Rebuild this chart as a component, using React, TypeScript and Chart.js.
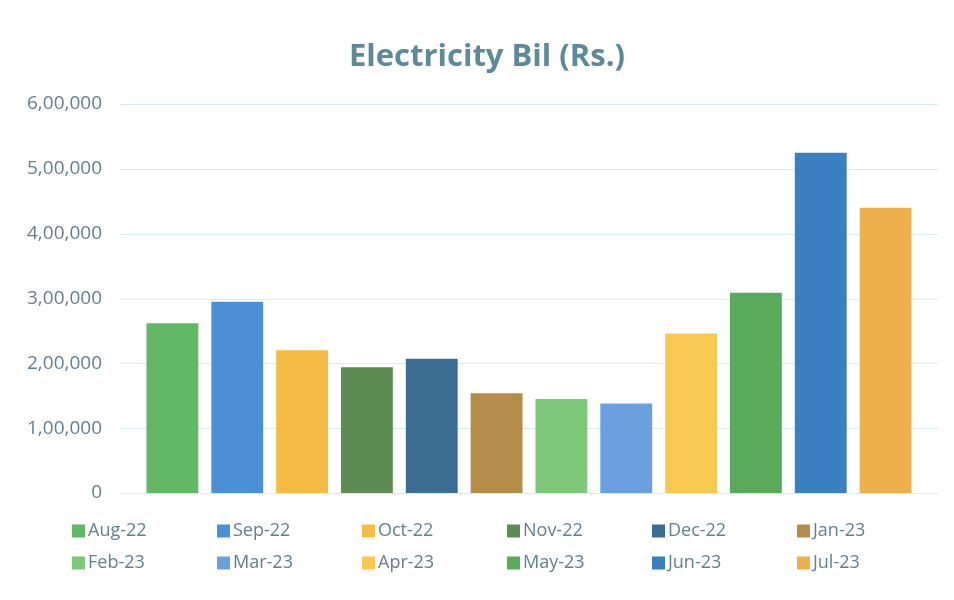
import React, { useEffect, useRef } from "react";
import { Chart, registerables } from "chart.js";

Chart.register(...registerables);

const months = ["Aug-22", "Sep-22", "Oct-22", "Nov-22", "Dec-22", "Jan-23", "Feb-23", "Mar-23", "Apr-23", "May-23", "Jun-23", "Jul-23"];
const bills = [262000, 295000, 220000, 194000, 207000, 154000, 145000, 138000, 246000, 309000, 525000, 440000];
const colors = ["#63b866", "#4b8fd6", "#f5bc45", "#5d8c55", "#3c6e94", "#b58d4a", "#7ec87a", "#6aa0e0", "#f8c951", "#5aaa5c", "#3a80c0", "#eeb04a"];
const yTicks = [0, 100000, 200000, 300000, 400000, 500000, 600000];
const titleText = "Electricity Bil (Rs.)";

const FONT = "'Open Sans', 'Noto Sans', sans-serif";
const TEXT_COLOR = "#62808f";

function formatIndian(v: number): string {
  const s = String(Math.round(v));
  if (s.length <= 3) return s;
  const last3 = s.slice(-3);
  let rest = s.slice(0, -3);
  const parts: string[] = [];
  while (rest.length > 2) {
    parts.unshift(rest.slice(-2));
    rest = rest.slice(0, -2);
  }
  if (rest.length) parts.unshift(rest);
  return parts.join(",") + "," + last3;
}

// horizontal gridlines that run a little past the bar area on both sides
const wideGrid = {
  id: "wideGrid",
  beforeDatasetsDraw(chart: any) {
    const ctx = chart.ctx;
    const y = chart.scales.y;
    const { left, right } = chart.chartArea;
    ctx.save();
    ctx.strokeStyle = "#d6ecef";
    ctx.lineWidth = 1;
    yTicks.forEach((v) => {
      const py = Math.round(y.getPixelForValue(v)) + 0.5;
      ctx.beginPath();
      ctx.moveTo(left - 20, py);
      ctx.lineTo(right + 20, py);
      ctx.stroke();
    });
    ctx.restore();
  },
};

// title centred over the gridline span
const plotTitle = {
  id: "plotTitle",
  afterDraw(chart: any) {
    const ctx = chart.ctx;
    const { left, right } = chart.chartArea;
    ctx.save();
    ctx.font = `bold 31px ${FONT}`;
    ctx.fillStyle = "#5d8a99";
    ctx.textAlign = "center";
    ctx.textBaseline = "middle";
    ctx.fillText(titleText, (left - 20 + right + 20) / 2 - 42, 57);
    ctx.restore();
  },
};

const gridLegend = {
  id: "gridLegend",
  afterDraw(chart: any) {
    const ctx = chart.ctx;
    const cols = 6;
    ctx.save();
    ctx.font = `18px ${FONT}`;
    ctx.textBaseline = "middle";
    ctx.textAlign = "left";
    chart.data.datasets.forEach((ds: any, i: number) => {
      const col = i % cols;
      const row = Math.floor(i / cols);
      const x = 72 + col * 145;
      const y = 531 + row * 32;
      ctx.fillStyle = ds.backgroundColor;
      ctx.fillRect(x, y - 6.5, 13, 13);
      ctx.fillStyle = TEXT_COLOR;
      ctx.fillText(ds.label, x + 16, y);
    });
    ctx.restore();
  },
};

export default function App() {
  const ref = useRef<HTMLCanvasElement | null>(null);
  useEffect(() => {
    document.body.style.margin = "0";
    const canvas = ref.current;
    if (!canvas) return;
    const chart = new Chart(canvas, {
      type: "bar",
      data: {
        labels: months,
        datasets: months.map((m, i) => ({
          label: m,
          data: bills.map((v, j) => (j === i ? v : null)),
          backgroundColor: colors[i],
          borderWidth: 0,
          categoryPercentage: 1,
          barPercentage: 0.8,
          skipNull: true,
        })),
      },
      options: {
        animation: false,
        responsive: false,
        maintainAspectRatio: false,
        layout: { padding: { left: 0, right: 36, top: 104, bottom: 99 } },
        plugins: {
          legend: { display: false },
          tooltip: { enabled: false },
          title: { display: false },
        },
        scales: {
          x: {
            grid: { display: false },
            border: { display: false },
            ticks: { display: false },
          },
          y: {
            min: 0,
            max: 600000,
            afterFit: (s: any) => {
              s.width = 140;
            },
            afterBuildTicks: (s: any) => {
              s.ticks = yTicks.map((v) => ({ value: v }));
            },
            grid: { display: false, drawTicks: false },
            border: { display: false },
            ticks: {
              padding: 38,
              color: TEXT_COLOR,
              font: { size: 19, family: FONT },
              callback: (v: any) => formatIndian(Number(v)),
            },
          },
        },
      },
      plugins: [wideGrid, plotTitle, gridLegend],
    });
    return () => chart.destroy();
  }, []);
  return (
    <div style={{ width: 954, height: 600, background: "#ffffff" }}>
      <canvas ref={ref} width={954} height={600} style={{ display: "block" }} />
    </div>
  );
}
